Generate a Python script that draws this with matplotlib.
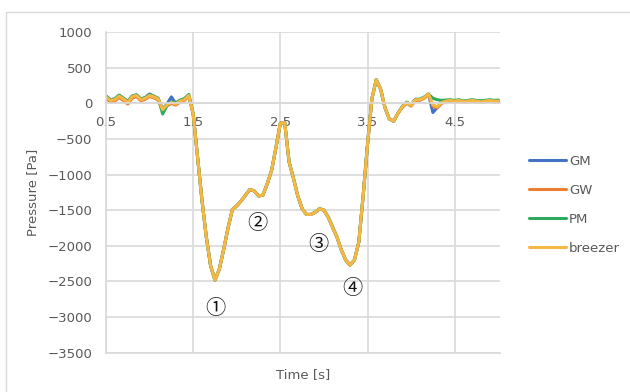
import numpy as np
import matplotlib
matplotlib.use('Agg')
import matplotlib.pyplot as plt
from matplotlib.patches import Rectangle

# time axis [s], 0.05 s steps from 0.5 to 5.0
time = np.round(np.arange(0.5, 5.001, 0.05), 2)

# pressure [Pa] - noisy start (0.50 .. 1.45)
head_gm = [100, 50, 60, 110, 70, 20, 100, 115, 60, 80, 130, 95, 60, -80, -10, 90, -5, 35, 60, 110]
head_gw = [70, 20, 30, 80, 40, -10, 70, 95, 35, 55, 95, 75, 45, -100, -35, -5, -25, 15, 40, 95]
head_pm = [100, 50, 60, 115, 70, 25, 100, 120, 60, 80, 120, 100, 70, -150, -30, 20, 5, 45, 65, 125]
head_breezer = [90, 40, 50, 100, 60, 10, 90, 110, 50, 70, 110, 90, 60, -90, -20, 10, -10, 30, 50, 110]

# main event (1.50 .. 3.85), all four series overlap here
middle = [-150, -750, -1350, -1870, -2280, -2480, -2330, -2050, -1750, -1490,
          -1440, -1370, -1290, -1210, -1230, -1300, -1290, -1130, -940, -620,
          -280, -270, -820, -1050, -1300, -1480, -1560, -1560, -1530, -1480,
          -1500, -1600, -1740, -1880, -2060, -2200, -2270, -2200, -1950, -1300,
          -580, 60, 330, 200, -60, -220, -250, -140]

# settling tail (3.90 .. 5.00)
tail_gm = [-45, 15, -25, 55, 55, 85, 130, -130, -60, 5, 30, 40, 35, 40, 25, 35, 40, 30, 25, 35, 40, 30, 35]
tail_gw = [-60, 0, -40, 40, 40, 70, 120, -40, -65, 0, 20, 30, 20, 30, 10, 20, 30, 20, 10, 20, 30, 20, 20]
tail_pm = [-45, 15, -25, 55, 55, 85, 130, 70, 50, 40, 45, 50, 40, 50, 30, 40, 50, 40, 35, 40, 50, 40, 45]
tail_breezer = [-50, 10, -30, 50, 50, 80, 130, -20, -50, 10, 30, 40, 30, 40, 20, 30, 40, 30, 20, 30, 40, 30, 30]

series_names = ['GM', 'GW', 'PM', 'breezer']
series_values = [head_gm + middle + tail_gm,
                 head_gw + middle + tail_gw,
                 head_pm + middle + tail_pm,
                 head_breezer + middle + tail_breezer]
series_colors = ['#4472C4', '#ED7D31', '#2EAA5C', '#F6B845']

marks = ['①', '②', '③', '④']
mark_t = [1.755, 2.237, 2.937, 3.321]
mark_p = [-2886, -1693, -1987, -2605]

x_ticks = [0.5, 1.5, 2.5, 3.5, 4.5]
y_ticks = [1000, 500, 0, -500, -1000, -1500, -2000, -2500, -3000, -3500]

text_gray = '#595959'
grid_gray = '#D9D9D9'

fig = plt.figure(figsize=(6.3, 3.92), dpi=100)
# outer chart frame (cut off at right and bottom in the reference)
fig.patches.append(Rectangle((6 / 630, -0.05), 1.0, 1.05 - 12 / 392,
                             transform=fig.transFigure, fill=False,
                             edgecolor=grid_gray, linewidth=1))
ax = fig.add_axes([106 / 630, 1 - 352.7 / 392, 394 / 630, 320.7 / 392])

for name, vals, col in zip(series_names, series_values, series_colors):
    ax.plot(time, vals, color=col, linewidth=2.2, label=name, solid_capstyle='round')

for m, t, p in zip(marks, mark_t, mark_p):
    ax.text(t, p, m, ha='center', va='center', fontsize=14.5, color='#111111',
            family=['Noto Sans CJK JP', 'DejaVu Sans'])

ax.set_xlim(0.5, 5.02)
ax.set_ylim(-3500, 1000)
ax.set_xticks(x_ticks)
ax.set_yticks(y_ticks)
ax.set_xticklabels([str(v) for v in x_ticks])
ax.grid(True, color=grid_gray, linewidth=1.2)
ax.set_axisbelow(True)

# bottom edge of the plot area (the x axis itself crosses at 0)
ax.axhline(y_ticks[-1], color=grid_gray, linewidth=1.2, clip_on=False, zorder=0.5)

for s in ['top', 'right']:
    ax.spines[s].set_visible(False)
ax.spines['left'].set_color(grid_gray)
ax.spines['left'].set_linewidth(1.2)
ax.spines['bottom'].set_position(('data', 0))
ax.spines['bottom'].set_color(grid_gray)
ax.spines['bottom'].set_linewidth(1.2)

ax.tick_params(axis='x', length=0, pad=9, labelsize=9.5, labelcolor=text_gray)
ax.tick_params(axis='y', length=0, pad=10, labelsize=9.5, labelcolor=text_gray)

ax.set_xlabel('Time [s]', fontsize=9.5, color=text_gray)
ax.xaxis.set_label_coords(0.5, -0.047)
ax.set_ylabel('Pressure [Pa]', fontsize=9.5, color=text_gray)
ax.yaxis.set_label_coords(-0.17, 0.5)

fig.legend(loc='center left', bbox_to_anchor=(529 / 630, 1 - 204.8 / 392),
           frameon=False, fontsize=9.5, handlelength=2.8, handletextpad=0.25,
           labelspacing=1.2, borderpad=0, borderaxespad=0, labelcolor=text_gray)

fig.savefig('out.png', dpi=100)
